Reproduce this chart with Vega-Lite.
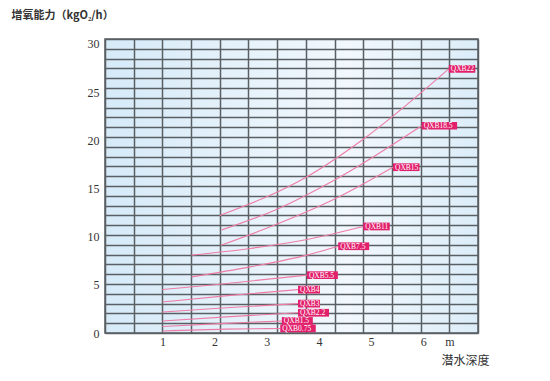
{
  "$schema": "https://vega.github.io/schema/vega-lite/v6.json",
  "width": 373,
  "height": 294,
  "autosize": {"type": "none"},
  "padding": {"left": 105, "top": 39, "right": 72, "bottom": 48},
  "background": "white",
  "config": {
    "view": {"stroke": "#5a5f63", "strokeWidth": 1.5,
      "fill": {"gradient": "linear", "x1": 0, "y1": 0, "x2": 1, "y2": 0,
        "stops": [{"offset": 0, "color": "#d6eaf8"}, {"offset": 0.65, "color": "#f2f8fd"}, {"offset": 1, "color": "#dcedf9"}]}},
    "axis": {"labelFont": "Liberation Serif", "labelFontSize": 12, "labelColor": "#333", "ticks": false, "domain": false, "gridColor": "#5a5f63", "gridWidth": 1.5, "gridOpacity": 1}
  },
  "datasets": {
    "curves": [
      {"series": "QXB0.75", "x": 1.0, "y": 0.2},
      {"series": "QXB0.75", "x": 2.2, "y": 0.4},
      {"series": "QXB0.75", "x": 3.26, "y": 0.47},
      {"series": "QXB1.5", "x": 1.0, "y": 0.68},
      {"series": "QXB1.5", "x": 2.2, "y": 1.0},
      {"series": "QXB1.5", "x": 3.29, "y": 1.25},
      {"series": "QXB2.2", "x": 1.0, "y": 1.25},
      {"series": "QXB2.2", "x": 2.3, "y": 1.7},
      {"series": "QXB2.2", "x": 3.6, "y": 2.1},
      {"series": "QXB3", "x": 1.0, "y": 2.18},
      {"series": "QXB3", "x": 2.3, "y": 2.65},
      {"series": "QXB3", "x": 3.6, "y": 3.05},
      {"series": "QXB4", "x": 1.0, "y": 3.22},
      {"series": "QXB4", "x": 2.3, "y": 3.9},
      {"series": "QXB4", "x": 3.6, "y": 4.5},
      {"series": "QXB5.5", "x": 1.0, "y": 4.5},
      {"series": "QXB5.5", "x": 2.1, "y": 5.06},
      {"series": "QXB5.5", "x": 3.77, "y": 6.0},
      {"series": "QXB7.5", "x": 1.56, "y": 5.82},
      {"series": "QXB7.5", "x": 2.68, "y": 6.86},
      {"series": "QXB7.5", "x": 3.77, "y": 8.08},
      {"series": "QXB7.5", "x": 4.37, "y": 9.0},
      {"series": "QXB11", "x": 1.56, "y": 8.08},
      {"series": "QXB11", "x": 2.68, "y": 8.77},
      {"series": "QXB11", "x": 3.77, "y": 9.7},
      {"series": "QXB11", "x": 4.85, "y": 11.05},
      {"series": "QXB15", "x": 2.12, "y": 9.1},
      {"series": "QXB15", "x": 3.2, "y": 11.3},
      {"series": "QXB15", "x": 4.3, "y": 13.9},
      {"series": "QXB15", "x": 5.42, "y": 17.2},
      {"series": "QXB18.5", "x": 2.14, "y": 10.7},
      {"series": "QXB18.5", "x": 3.22, "y": 12.9},
      {"series": "QXB18.5", "x": 4.31, "y": 15.9},
      {"series": "QXB18.5", "x": 5.97, "y": 21.5},
      {"series": "QXB22", "x": 2.1, "y": 12.2},
      {"series": "QXB22", "x": 3.77, "y": 16.2},
      {"series": "QXB22", "x": 4.85, "y": 20.1},
      {"series": "QXB22", "x": 6.49, "y": 27.4}
    ]
  },
  "layer": [
    {
      "data": {"name": "curves"},
      "mark": {"type": "line", "interpolate": "monotone", "color": "#ee7da6", "strokeWidth": 1.1},
      "encoding": {
        "x": {"field": "x", "type": "quantitative", "scale": {"domain": [-0.1, 7.05], "nice": false, "zero": false},
          "axis": {"orient": "top", "values": [-0.1, 0.45, 1.0, 1.55, 2.1, 2.65, 3.2, 3.75, 4.3, 4.85, 5.4, 5.95, 6.5, 7.05], "labels": false, "grid": true, "title": null}},
        "y": {"field": "y", "type": "quantitative", "scale": {"domain": [0, 30.5], "nice": false},
          "axis": {"orient": "right", "values": [0, 1.0167, 2.0333, 3.05, 4.0667, 5.0833, 6.1, 7.1167, 8.1333, 9.15, 10.1667, 11.1833, 12.2, 13.2167, 14.2333, 15.25, 16.2667, 17.2833, 18.3, 19.3167, 20.3333, 21.35, 22.3667, 23.3833, 24.4, 25.4167, 26.4333, 27.45, 28.4667, 29.4833, 30.5], "labels": false, "grid": true, "title": null}},
        "detail": {"field": "series"}
      }
    },
    {
      "data": {"name": "curves"},
      "transform": [
        {"joinaggregate": [{"op": "max", "field": "x", "as": "xmax"}], "groupby": ["series"]},
        {"filter": "datum.x == datum.xmax"},
        {"calculate": "datum.x + (length(datum.series) * 4.5 + 4) / 52.2", "as": "x2"},
        {"calculate": "datum.y - 0.4", "as": "ylo"},
        {"calculate": "datum.y + 0.4", "as": "yhi"}
      ],
      "mark": {"type": "rect", "color": "#e2206c"},
      "encoding": {
        "x": {"field": "x", "type": "quantitative",
          "axis": {"orient": "bottom", "values": [1, 2, 3, 4, 5, 6, 6.5], "grid": false, "labelPadding": 3, "labelExpr": "datum.value == 6.5 ? 'm' : datum.label",
            "title": "潜水深度", "titleFont": "Noto Sans CJK SC", "titleFontSize": 12, "titleFontWeight": "normal", "titleColor": "#333", "titleX": 336, "titleY": 22, "titleAnchor": "start", "titleAlign": "left"}},
        "x2": {"field": "x2"},
        "y": {"field": "ylo", "type": "quantitative",
          "axis": {"orient": "left", "values": [0, 5, 10, 15, 20, 25, 30], "grid": false, "labelPadding": 6,
            "title": "增氧能力（kgO₂/h）", "titleFont": "Noto Sans CJK SC", "titleFontSize": 11, "titleFontWeight": "bold", "titleColor": "#333", "titleAngle": 0, "titleAlign": "left", "titleBaseline": "middle", "titleX": -94, "titleY": -24}},
        "y2": {"field": "yhi"}
      }
    },
    {
      "data": {"name": "curves"},
      "transform": [
        {"joinaggregate": [{"op": "max", "field": "x", "as": "xmax"}], "groupby": ["series"]},
        {"filter": "datum.x == datum.xmax"}
      ],
      "mark": {"type": "text", "align": "left", "baseline": "middle", "dx": 2, "dy": 0.5, "font": "Liberation Serif", "fontSize": 7.5, "color": "white"},
      "encoding": {
        "x": {"field": "x", "type": "quantitative", "axis": null},
        "y": {"field": "y", "type": "quantitative", "axis": null},
        "text": {"field": "series"}
      }
    }
  ],
  "resolve": {"axis": {"x": "independent", "y": "independent"}}
}
